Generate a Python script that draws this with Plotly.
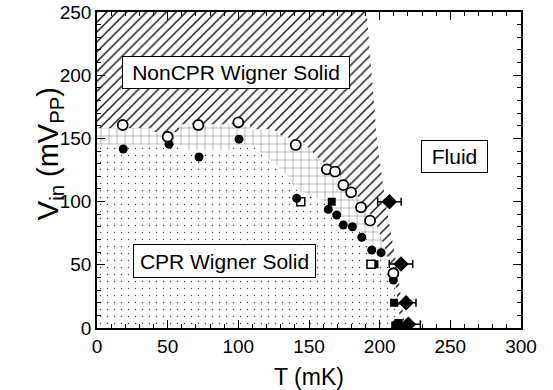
import plotly.graph_objects as go

# ---- data (T in mK, V in mVpp) ----
open_circle_T = [18.2, 50.0, 71.7, 100.0, 140.6, 162.6, 168.4, 174.3, 179.8, 186.8, 193.2, 209.7]
open_circle_V = [160.6, 151.3, 160.6, 162.7, 144.8, 125.5, 123.7, 113.1, 107.3, 95.5, 84.9, 43.3]

filled_circle_T = [18.6, 51.0, 72.2, 100.5, 141.3, 163.7, 169.6, 174.3, 180.7, 187.3, 194.4, 201.0, 209.7, 212.0, 214.4]
filled_circle_V = [141.6, 145.3, 135.3, 149.4, 102.6, 93.9, 89.4, 81.5, 80.1, 71.7, 61.7, 59.6, 38.0, 3.0, 2.0]

open_square_T = [144.2, 193.9]
open_square_V = [99.9, 50.4]

filled_square_T = [166.1, 196.3, 210.2, 211.0, 213.2]
filled_square_V = [99.9, 50.4, 20.0, 2.0, 4.0]

diamond_T = [206.9, 215.1, 218.7, 220.3]
diamond_V = [99.9, 50.6, 20.0, 3.0]
diamond_err = [8.3, 8.3, 7.0, 8.5]

# phase boundaries
fluid_boundary_T = [190.8, 194.4, 198.0, 204.0, 212.0, 218.0]
fluid_boundary_V = [250.0, 200.0, 150.0, 100.0, 50.0, 0.0]

noncpr_lower_T = [0, 40, 40, 58, 58, 108, 108, 125, 130, 137, 145, 150, 155, 160, 165, 170, 175, 180,
                  185, 190, 195, 199, 202, 205, 207, 209, 211, 212.5, 213.5, 214.5, 215]
noncpr_lower_V = [158, 158, 155, 155, 161, 161, 157, 157, 152, 150, 148, 142, 136, 131, 127, 123, 117, 111,
                  103, 95, 87, 78, 68, 58, 50, 45, 35, 25, 15, 5, 0]

cpr_upper_T = [207, 205, 203, 197, 192, 188, 183, 177, 172, 168, 162, 155, 148, 140, 135, 128, 120, 115,
               110, 95, 95, 60, 60, 0]
cpr_upper_V = [50, 52, 62, 63, 68, 75, 82, 84, 88, 95, 100, 103, 106, 110, 120, 128, 135, 140,
               145, 145, 140, 140, 145, 145]

x_range = [0, 300]
y_range = [0, 250]

FONT = "Liberation Sans, Arial, sans-serif"

fig = go.Figure()

# NonCPR (hatched) region: everything left of the fluid boundary
fig.add_trace(go.Scatter(
    x=[0, 0] + fluid_boundary_T + [0],
    y=[0, 250] + fluid_boundary_V + [0],
    mode="lines", fill="toself", line=dict(width=0),
    fillcolor="white",
    fillpattern=dict(shape="/", size=7, solidity=0.2, fgcolor="#111111",
                     bgcolor="white", fillmode="replace"),
    hoverinfo="skip", showlegend=False))

# CPR (dotted) region below the NonCPR boundary
fig.add_trace(go.Scatter(
    x=[0] + noncpr_lower_T + [0],
    y=[0] + noncpr_lower_V + [0],
    mode="lines", fill="toself", line=dict(width=0),
    fillcolor="white",
    fillpattern=dict(shape=".", size=7, solidity=0.03, fgcolor="#444444",
                     bgcolor="white", fillmode="replace"),
    hoverinfo="skip", showlegend=False))

# crossover (grid) band
band_T = [t for t in noncpr_lower_T if t <= 207] + cpr_upper_T
band_V = [v for t, v in zip(noncpr_lower_T, noncpr_lower_V) if t <= 207] + cpr_upper_V
fig.add_trace(go.Scatter(
    x=band_T, y=band_V,
    mode="lines", fill="toself", line=dict(width=0),
    fillcolor="white",
    fillpattern=dict(shape="+", size=8, solidity=0.1, fgcolor="#555555",
                     bgcolor="white", fillmode="replace"),
    hoverinfo="skip", showlegend=False))

# data markers
fig.add_trace(go.Scatter(x=diamond_T, y=diamond_V, mode="markers",
                         marker=dict(symbol="diamond", size=12, color="black"),
                         error_x=dict(type="data", array=diamond_err, color="black",
                                      thickness=1.5, width=4),
                         showlegend=False))
fig.add_trace(go.Scatter(x=filled_square_T, y=filled_square_V, mode="markers",
                         marker=dict(symbol="square", size=8, color="black"),
                         showlegend=False))
fig.add_trace(go.Scatter(x=open_square_T, y=open_square_V, mode="markers",
                         marker=dict(symbol="square", size=8, color="white",
                                     line=dict(color="black", width=1.5)),
                         showlegend=False))
fig.add_trace(go.Scatter(x=filled_circle_T, y=filled_circle_V, mode="markers",
                         marker=dict(symbol="circle", size=9, color="black"),
                         showlegend=False))
fig.add_trace(go.Scatter(x=open_circle_T, y=open_circle_V, mode="markers",
                         marker=dict(symbol="circle", size=10, color="white",
                                     line=dict(color="black", width=1.8)),
                         showlegend=False))

ann_font = dict(family=FONT, size=21, color="black")
fig.add_annotation(x=98.4, y=201.9, xref="x", yref="y", text="NonCPR Wigner Solid",
                   showarrow=False, font=ann_font, bgcolor="white", bordercolor="black",
                   borderwidth=1, borderpad=2, width=222, height=27)
fig.add_annotation(x=89.9, y=53.0, xref="x", yref="y", text="CPR Wigner Solid",
                   showarrow=False, font=ann_font, bgcolor="white", bordercolor="black",
                   borderwidth=1, borderpad=2, width=177, height=28)
fig.add_annotation(x=253.1, y=136.0, xref="x", yref="y", text="Fluid",
                   showarrow=False, font=ann_font, bgcolor="white", bordercolor="black",
                   borderwidth=1, borderpad=2, width=61, height=27)

# y-axis title (placed slightly above centre, as in the original)
fig.add_annotation(x=-0.158, y=0.55, xref="paper", yref="paper",
                   text="V<sub>in</sub> (mV<sub>PP</sub>)", textangle=-90, showarrow=False,
                   font=dict(family=FONT, size=29, color="black"))

axis_common = dict(
    showgrid=False, zeroline=False, showline=True, linecolor="black", linewidth=1.5,
    mirror="allticks", ticks="inside", ticklen=8, tickwidth=1.2, tickcolor="black",
    tickfont=dict(family=FONT, size=19, color="black"), automargin=False,
    minor=dict(ticks="inside", ticklen=4, tickwidth=1, tickcolor="black", dtick=10),
)

fig.update_xaxes(range=x_range, dtick=50, tick0=0, **axis_common,
                 title=dict(text="T (mK)", standoff=18,
                            font=dict(family=FONT, size=23, color="black")))
fig.update_yaxes(range=y_range, dtick=50, tick0=0, **axis_common)

fig.update_layout(width=553, height=390, margin=dict(l=97, r=32, t=12, b=62),
                  plot_bgcolor="white", paper_bgcolor="white")

fig.write_html("out.html")
